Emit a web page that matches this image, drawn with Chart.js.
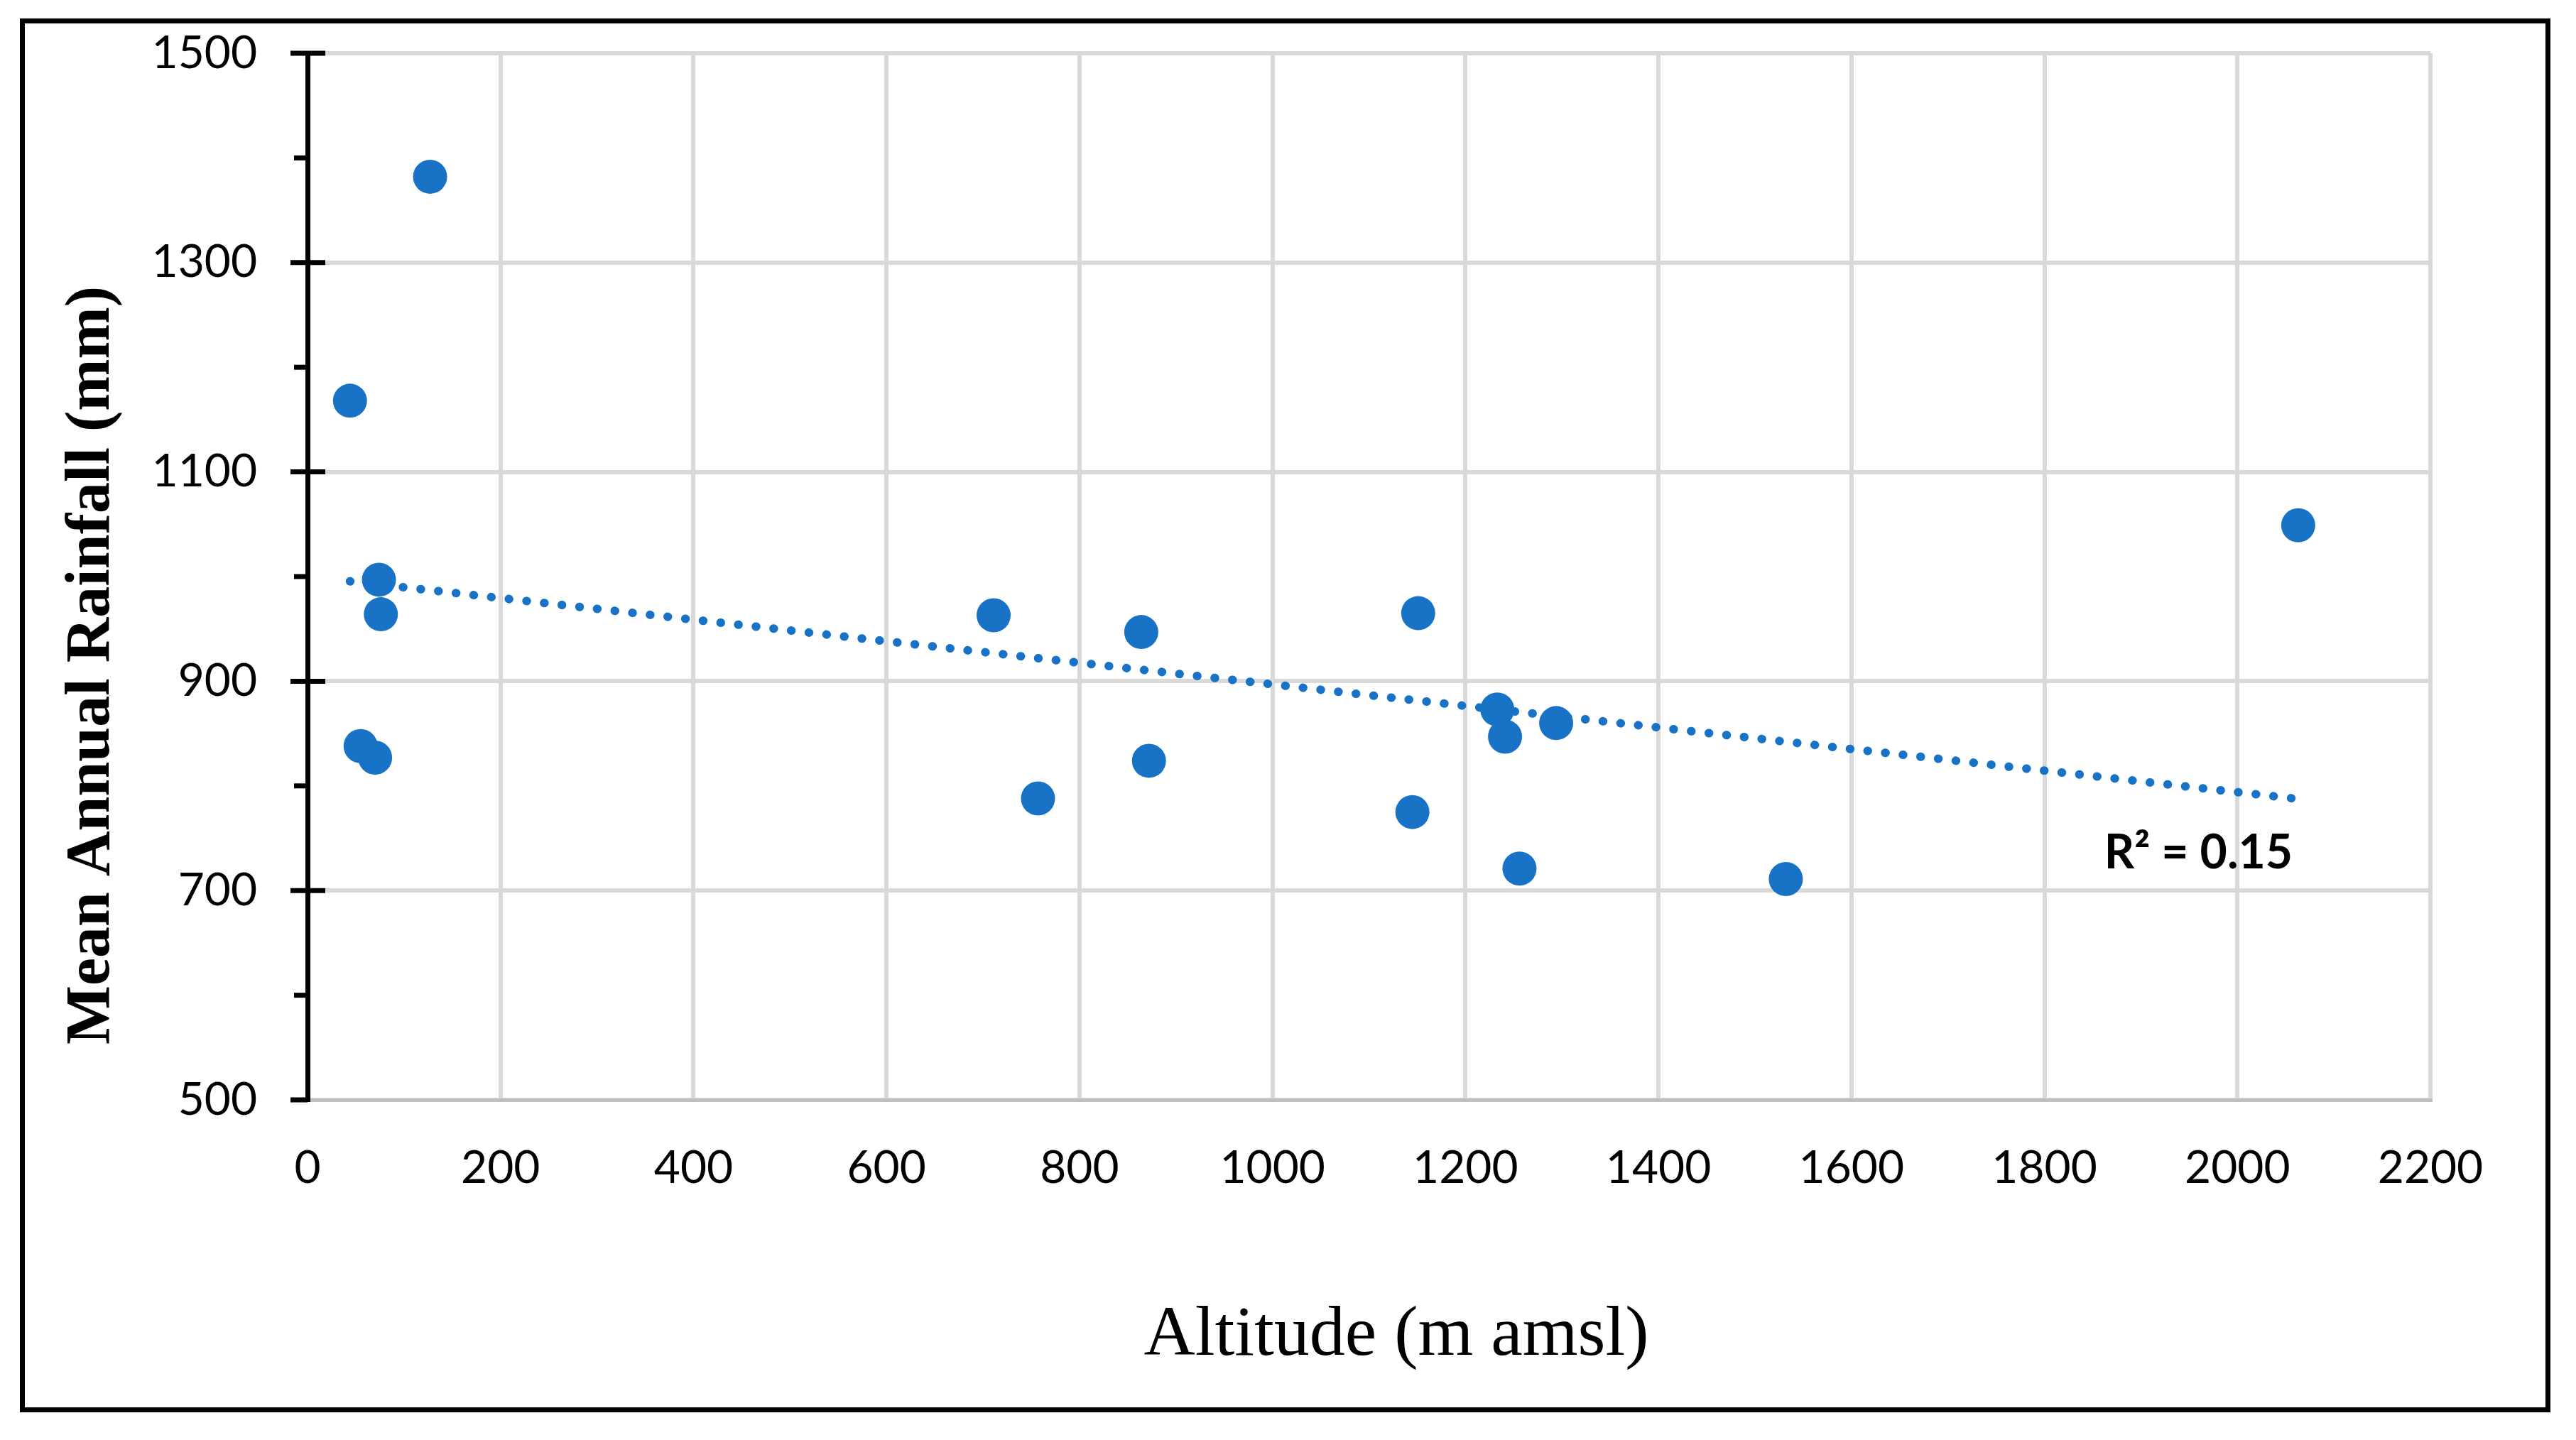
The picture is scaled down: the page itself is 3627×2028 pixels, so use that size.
<!DOCTYPE html>
<html>
<head>
<meta charset="utf-8">
<script src="https://cdn.jsdelivr.net/npm/chart.js@4.4.1/dist/chart.umd.min.js"></script>
<style>
  html, body { margin: 0; padding: 0; background: #fff; }
</style>
</head>
<body>
<canvas id="chart" width="3627" height="2028"></canvas>
<script>
// ==========================
// DATA
// ==========================
var altitude = [127, 44, 74, 76, 55, 70, 711, 757, 864, 872, 1151, 1145, 1233, 1241, 1294, 1256, 1532, 2063];
var rainfall = [1382, 1168, 997, 964, 838, 827, 963, 788, 947, 824, 965, 775, 873, 847, 860, 721, 711, 1049];

// linear trendline end points
var trendX = [44, 2063];
var trendY = [995.5, 787.5];

var xTicks      = [0, 200, 400, 600, 800, 1000, 1200, 1400, 1600, 1800, 2000, 2200];
var yTicks      = [500, 700, 900, 1100, 1300, 1500];
var yMinorTicks = [600, 800, 1000, 1200, 1400];

var xTitle  = 'Altitude (m amsl)';
var yTitle  = 'Mean Annual Rainfall (mm)';
var r2Label = 'R² = 0.15';
var r2Pos   = { x: 1862, y: 721 };

var blue = '#1873c6';

var points = altitude.map(function(a, i) { return { x: a, y: rainfall[i] }; });
var trend  = trendX.map(function(a, i) { return { x: a, y: trendY[i] }; });

// ==========================
// EXTRA DRAWING (ticks, titles, frame)
// ==========================
var decor = {
  id: 'decor',
  afterDraw: function(chart) {
    var ctx = chart.ctx;
    var xs = chart.scales.x;
    var ys = chart.scales.y;
    var left = chart.chartArea.left;

    ctx.save();
    ctx.strokeStyle = '#000';
    ctx.lineWidth = 7;

    // major ticks (cross) and minor ticks (outside) on the y axis
    yTicks.forEach(function(v) {
      var py = ys.getPixelForValue(v);
      ctx.beginPath();
      ctx.moveTo(left - 24, py);
      ctx.lineTo(v === yTicks[0] ? left : left + 25, py);
      ctx.stroke();
    });
    yMinorTicks.forEach(function(v) {
      var py = ys.getPixelForValue(v);
      ctx.beginPath();
      ctx.moveTo(left - 19, py);
      ctx.lineTo(left, py);
      ctx.stroke();
    });

    // outer frame
    ctx.strokeRect(31.5, 29.5, 3556, 1956);

    // axis titles
    ctx.fillStyle = '#000';
    ctx.textAlign = 'center';
    ctx.textBaseline = 'alphabetic';
    ctx.font = '100px "Liberation Serif"';
    ctx.fillText(xTitle, 1966, 1908);

    ctx.save();
    ctx.translate(153, 937);
    ctx.rotate(-Math.PI / 2);
    ctx.font = 'bold 88px "Liberation Serif"';
    ctx.fillText(yTitle, 0, 0);
    ctx.restore();

    // R² label
    ctx.textAlign = 'left';
    ctx.font = 'bold 66px Lato';
    ctx.fillText(r2Label, xs.getPixelForValue(r2Pos.x), ys.getPixelForValue(r2Pos.y));

    ctx.restore();
  }
};

function plainLabel(v) { return String(v); }

// ==========================
// CHART
// ==========================
new Chart(document.getElementById('chart'), {
  type: 'scatter',
  data: {
    datasets: [
      {
        data: points,
        backgroundColor: blue,
        borderWidth: 0,
        pointRadius: 24,
        pointHoverRadius: 24,
        order: 0
      },
      {
        type: 'line',
        data: trend,
        borderColor: blue,
        borderWidth: 12,
        borderDash: [0.5, 24.5],
        borderCapStyle: 'round',
        pointRadius: 0,
        fill: false,
        order: 1
      }
    ]
  },
  options: {
    responsive: false,
    animation: false,
    devicePixelRatio: 1,
    layout: { padding: { top: 75, right: 205, left: 0, bottom: 0 } },
    plugins: {
      legend: { display: false },
      tooltip: { enabled: false }
    },
    scales: {
      x: {
        type: 'linear',
        min: 0,
        max: 2200,
        afterBuildTicks: function(scale) {
          scale.ticks = xTicks.map(function(v) { return { value: v }; });
        },
        ticks: {
          color: '#000',
          padding: 58,
          callback: plainLabel,
          font: { family: 'Lato', size: 64 }
        },
        grid: { color: '#d9d9d9', lineWidth: 6, drawTicks: false },
        border: { color: '#bfbfbf', width: 5 },
        afterFit: function(scale) {
          scale.height = 479;
          scale.paddingLeft = 0;
          scale.paddingRight = 0;
        }
      },
      y: {
        type: 'linear',
        min: 500,
        max: 1500,
        afterBuildTicks: function(scale) {
          scale.ticks = yTicks.map(function(v) { return { value: v }; });
        },
        ticks: {
          color: '#000',
          padding: 71,
          callback: plainLabel,
          font: { family: 'Lato', size: 64 }
        },
        grid: { color: '#d9d9d9', lineWidth: 6, drawTicks: false },
        border: { color: '#000', width: 7 },
        afterFit: function(scale) {
          scale.width = 433;
          scale.paddingTop = 0;
          scale.paddingBottom = 0;
        }
      }
    }
  },
  plugins: [decor]
});
</script>
</body>
</html>
